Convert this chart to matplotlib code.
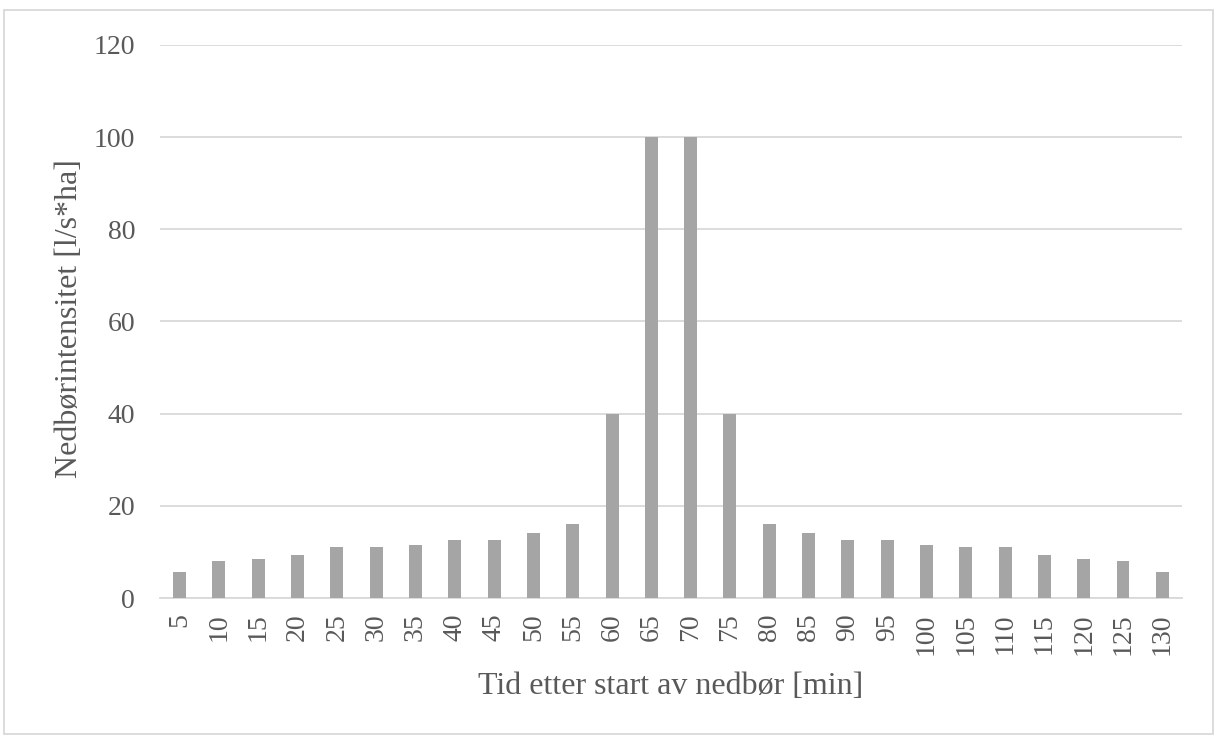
import matplotlib.pyplot as plt
from matplotlib.patches import Rectangle

# Nedbørintensitet per 5-minutters intervall
minutes = [5, 10, 15, 20, 25, 30, 35, 40, 45, 50, 55, 60, 65,
           70, 75, 80, 85, 90, 95, 100, 105, 110, 115, 120, 125, 130]
intensity = [5.6, 8, 8.4, 9.4, 11, 11, 11.4, 12.5, 12.5, 14, 16, 40, 100,
             100, 40, 16, 14, 12.5, 12.5, 11.4, 11, 11, 9.4, 8.4, 8, 5.6]
y_ticks = [0, 20, 40, 60, 80, 100, 120]

plt.rcParams['font.family'] = ['Liberation Serif', 'DejaVu Serif']
text_color = '#595959'

fig = plt.figure(figsize=(12.14, 7.36), dpi=100)
ax = fig.add_axes([0.1318, 0.1875, 0.8418, 0.7514])

x = range(len(minutes))
ax.bar(x, intensity, width=0.33, color='#a5a5a5', zorder=3)

ax.set_xlim(-0.5, len(minutes) - 0.5)
ax.set_ylim(0, 120)
ax.set_yticks(y_ticks)
ax.set_xticks(list(x))
ax.set_xticklabels([str(m) for m in minutes], rotation=90)

ax.grid(axis='y', color='#d9d9d9', linewidth=1.3, zorder=0)
for side in ('top', 'right', 'left'):
    ax.spines[side].set_visible(False)
ax.spines['bottom'].set_color('#d9d9d9')
ax.spines['bottom'].set_linewidth(1.3)
ax.tick_params(axis='both', length=0, labelsize=20, colors=text_color)
ax.tick_params(axis='y', pad=18)
ax.tick_params(axis='x', pad=11)

# axis titles placed in figure coordinates
fig.text(670.5 / 1214, 1 - 694 / 736, 'Tid etter start av nedbør [min]',
         fontsize=23, color=text_color, ha='center', va='baseline')
fig.text(77 / 1214, 1 - 318.5 / 736, 'Nedbørintensitet [l/s*ha]',
         fontsize=23, color=text_color, ha='center', va='baseline',
         rotation=90, rotation_mode='anchor')

# outer chart border
fig.patches.append(Rectangle((0.003, 0.003), 0.996, 0.984, transform=fig.transFigure,
                             fill=False, edgecolor='#d9d9d9', linewidth=1.3))

fig.savefig('out.png', dpi=100)
